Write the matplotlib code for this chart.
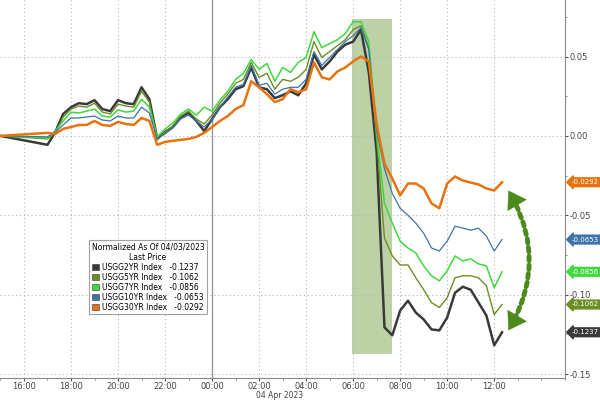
import numpy as np
import matplotlib
matplotlib.use("Agg")
import matplotlib.pyplot as plt
from matplotlib.patches import Patch

# time axis: hours relative to 04 Apr 2023 00:00
# first point is 15:00 on the 3rd, then a 20-minute grid from 17:00 to 12:20
TIMES = [-9.0] + list(np.arange(-7.0, 12.34, 1 / 3))

NAMES = ["USGG2YR", "USGG5YR", "USGG7YR", "USGG10YR", "USGG30YR"]
LAST_PRICE = [-0.1237, -0.1062, -0.0856, -0.0653, -0.0292]
COLORS = ["#3a3a3a", "#6b8e23", "#3fd83f", "#3c74aa", "#e8720c"]
WIDTHS = [1.8, 1.0, 1.1, 0.9, 1.8]

Y2 = [0.0,
      -0.0056, 0.0025, 0.0138, 0.0181, 0.0206, 0.0200, 0.0225, 0.0169, 0.0156, 0.0225,
      0.0206, 0.0200, 0.0306, 0.0231, -0.0019, 0.0025, 0.0056, 0.0119, 0.0144, 0.0094,
      0.0030, 0.0106, 0.0181, 0.0231, 0.0294, 0.0313, 0.0431, 0.0306, 0.0294, 0.0238,
      0.0256, 0.0281, 0.0256, 0.0331, 0.0513, 0.0419, 0.0469, 0.0531, 0.0575, 0.0594,
      0.0669, 0.0400, -0.0100, -0.1206, -0.1256, -0.1100, -0.1038, -0.1113, -0.1156, -0.1219,
      -0.1225, -0.1144, -0.0988, -0.0950, -0.0969, -0.1050, -0.1131, -0.1319, -0.1237]

Y5 = [0.0,
      -0.0019, 0.0019, 0.0119, 0.0169, 0.0188, 0.0181, 0.0206, 0.0150, 0.0138, 0.0200,
      0.0188, 0.0181, 0.0281, 0.0213, -0.0025, 0.0025, 0.0063, 0.0125, 0.0156, 0.0106,
      0.0075, 0.0131, 0.0206, 0.0263, 0.0331, 0.0356, 0.0463, 0.0369, 0.0394, 0.0294,
      0.0356, 0.0344, 0.0369, 0.0419, 0.0594, 0.0494, 0.0531, 0.0569, 0.0606, 0.0669,
      0.0694, 0.0556, -0.0019, -0.0644, -0.0756, -0.0813, -0.0813, -0.0894, -0.0969, -0.1050,
      -0.1081, -0.1019, -0.0894, -0.0881, -0.0881, -0.0894, -0.0944, -0.1125, -0.1062]

Y7 = [0.0,
      -0.0013, 0.0031, 0.0094, 0.0150, 0.0144, 0.0156, 0.0169, 0.0125, 0.0119, 0.0163,
      0.0150, 0.0156, 0.0231, 0.0181, -0.0006, 0.0044, 0.0081, 0.0138, 0.0169, 0.0131,
      0.0181, 0.0156, 0.0225, 0.0281, 0.0356, 0.0394, 0.0481, 0.0419, 0.0456, 0.0344,
      0.0431, 0.0400, 0.0463, 0.0494, 0.0656, 0.0556, 0.0581, 0.0606, 0.0644, 0.0719,
      0.0719, 0.0594, 0.0013, -0.0425, -0.0550, -0.0663, -0.0706, -0.0738, -0.0819, -0.0881,
      -0.0913, -0.0850, -0.0756, -0.0788, -0.0775, -0.0806, -0.0819, -0.0956, -0.0856]

Y10 = [0.0,
       -0.0006, 0.0025, 0.0069, 0.0113, 0.0113, 0.0119, 0.0125, 0.0100, 0.0094, 0.0125,
       0.0113, 0.0113, 0.0181, 0.0144, -0.0019, 0.0013, 0.0050, 0.0106, 0.0131, 0.0094,
       0.0056, 0.0106, 0.0181, 0.0244, 0.0306, 0.0325, 0.0444, 0.0319, 0.0331, 0.0263,
       0.0294, 0.0306, 0.0306, 0.0356, 0.0531, 0.0444, 0.0494, 0.0544, 0.0594, 0.0631,
       0.0681, 0.0544, 0.0030, -0.0206, -0.0363, -0.0456, -0.0500, -0.0550, -0.0613, -0.0706,
       -0.0725, -0.0663, -0.0569, -0.0581, -0.0594, -0.0581, -0.0631, -0.0725, -0.0653]

Y30 = [0.0,
       0.0019, 0.0013, 0.0044, 0.0056, 0.0069, 0.0069, 0.0094, 0.0069, 0.0063, 0.0088,
       0.0075, 0.0069, 0.0113, 0.0094, -0.0056, -0.0038, -0.0031, -0.0025, -0.0019, -0.0006,
       0.0019, 0.0056, 0.0094, 0.0125, 0.0169, 0.0194, 0.0344, 0.0306, 0.0263, 0.0213,
       0.0231, 0.0294, 0.0275, 0.0294, 0.0463, 0.0369, 0.0356, 0.0406, 0.0431, 0.0469,
       0.0500, 0.0469, 0.0075, -0.0175, -0.0269, -0.0375, -0.0300, -0.0300, -0.0331, -0.0425,
       -0.0456, -0.0300, -0.0256, -0.0281, -0.0294, -0.0306, -0.0331, -0.0344, -0.0292]

SERIES = [Y2, Y5, Y7, Y10, Y30]

# shaded selloff window (06:00 - ~07:40)
SHADE_T = [5.96, 7.66]
SHADE_Y = [-0.1375, 0.0738]

X_TICKS = [-8, -6, -4, -2, 0, 2, 4, 6, 8, 10, 12]
Y_TICKS = [-0.15, -0.10, -0.05, 0.00, 0.05]

# curved arrow end points (spread between 30YR and 2YR)
ARROW_T = 12.6
ARROW_TOP, ARROW_BOT = -0.0344, -0.1225

fig = plt.figure(figsize=(6, 4), dpi=100)
ax = fig.add_axes([0.0, 0.055, 0.942, 0.945])

ax.fill_between(SHADE_T, SHADE_Y[0], SHADE_Y[1], color="#adc690", alpha=0.8,
                lw=0, zorder=1)

draw_order = [3, 2, 1, 0, 4]
for k in draw_order:
    ax.plot(TIMES, SERIES[k], color=COLORS[k], lw=WIDTHS[k], zorder=3 + k * 0.1)

ax.axvline(0, color="#9a9a9a", lw=1.0, zorder=2)

ax.set_xlim(-9.02, 15.02)
ax.set_ylim(-0.1525, 0.0856)

ax.set_xticks(X_TICKS)
ax.set_xticklabels([f"{int(h % 24):02d}:00" for h in X_TICKS])
ax.set_xticks(np.arange(-9, 16, 1), minor=True)
ax.yaxis.tick_right()
ax.set_yticks(Y_TICKS)
ax.set_yticklabels([f"{v:.2f}" for v in Y_TICKS])
ax.set_yticks(np.arange(-0.15, 0.08, 0.025), minor=True)
ax.tick_params(axis="both", which="major", labelsize=6, colors="#555555",
               length=2, pad=1, labelcolor="#444444")
ax.tick_params(axis="both", which="minor", length=1.5, colors="#777777")

ax.grid(True, which="major", linestyle=(0, (1, 2.5)), color="#b5b5b5", lw=0.8, zorder=0)
for s in ["left", "top"]:
    ax.spines[s].set_visible(False)
for s in ["right", "bottom"]:
    ax.spines[s].set_color("#8a8a8a")

fig.text(256 / 600, 0.0, "04 Apr 2023", fontsize=5.5, color="#444444",
         ha="left", va="bottom")

# legend
handles = [Patch(facecolor=c, edgecolor="#333333", lw=0.4) for c in COLORS]
labels = [f"{n} Index   {v:.4f}" for n, v in zip(NAMES, LAST_PRICE)]
leg = ax.legend(handles, labels, title="Normalized As Of 04/03/2023\nLast Price",
                loc="lower left", bbox_to_anchor=(85 / 565, 60 / 378),
                fontsize=5.5, title_fontsize=5.5, frameon=True, fancybox=False,
                edgecolor="#8a8a8a", handlelength=1.0, handleheight=0.9,
                handletextpad=0.4, borderpad=0.35, labelspacing=0.12)
leg.get_title().set_multialignment("center")
leg.get_frame().set_linewidth(0.8)
leg.set_zorder(10)

# right-hand last-price tags
for c, v in zip(COLORS, LAST_PRICE):
    ax.annotate(f"{v:.4f}", xy=(1.0, v), xycoords=("axes fraction", "data"),
                xytext=(4.5, 0), textcoords="offset points", ha="left", va="center",
                fontsize=5, color="white", annotation_clip=False,
                bbox=dict(boxstyle="larrow,pad=0.2", fc=c, ec=c))

# curved dotted double arrow: solid heads, dotted body
arrow_col = "#4c8a1c"
ax.annotate("", xy=(ARROW_T, ARROW_TOP), xytext=(ARROW_T, ARROW_BOT),
            arrowprops=dict(arrowstyle="<|-|>,head_length=1.0,head_width=0.65",
                            connectionstyle="arc3,rad=0.3", color=arrow_col,
                            lw=0.3, mutation_scale=12, shrinkA=0, shrinkB=0))
ax.annotate("", xy=(ARROW_T, ARROW_TOP), xytext=(ARROW_T, ARROW_BOT),
            arrowprops=dict(arrowstyle="-", connectionstyle="arc3,rad=0.3",
                            color=arrow_col, lw=3.5, linestyle=(0, (0.9, 0.9)),
                            shrinkA=9, shrinkB=9))

fig.savefig("out.png", dpi=100)
